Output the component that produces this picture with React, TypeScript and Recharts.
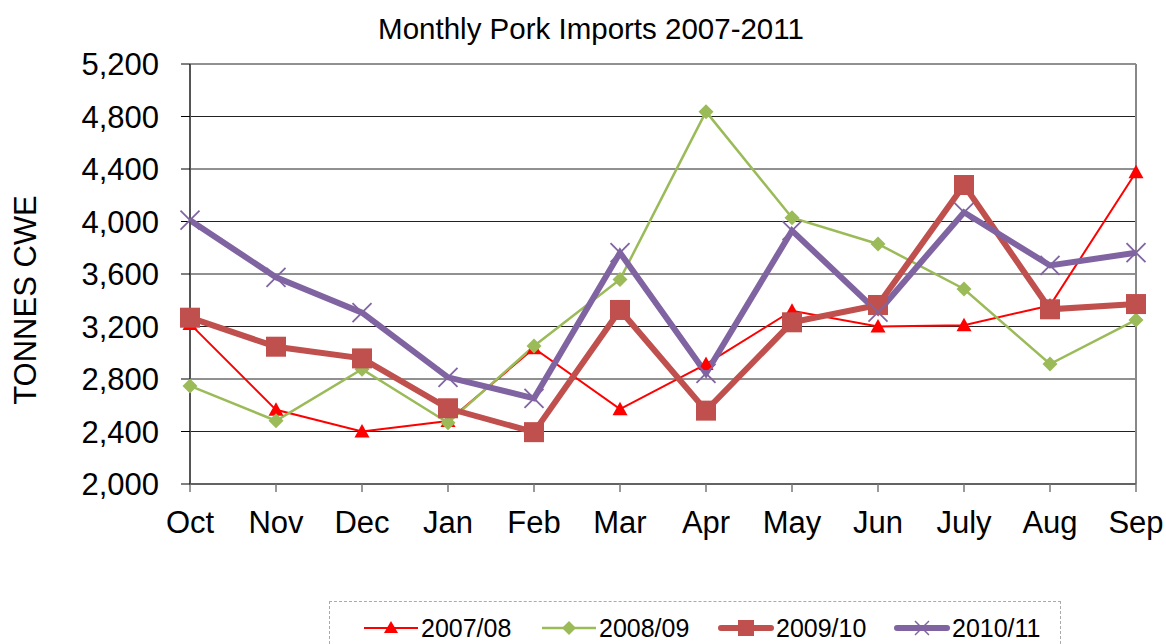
import React from 'react';
import { LineChart, Line, XAxis, YAxis, CartesianGrid, ReferenceLine } from 'recharts';

const months = ['Oct', 'Nov', 'Dec', 'Jan', 'Feb', 'Mar', 'Apr', 'May', 'Jun', 'July', 'Aug', 'Sep'];
const s0708 = [3220, 2565, 2400, 2480, 3034, 2570, 2914, 3320, 3200, 3210, 3360, 4375];
const s0809 = [2747, 2482, 2874, 2467, 3051, 3559, 4837, 4029, 3829, 3486, 2914, 3250];
const s0910 = [3267, 3046, 2957, 2577, 2395, 3326, 2559, 3232, 3364, 4278, 3331, 3371];
const s1011 = [4010, 3575, 3305, 2813, 2653, 3762, 2843, 3930, 3310, 4070, 3665, 3762];
const yTicks = [2000, 2400, 2800, 3200, 3600, 4000, 4400, 4800, 5200];
const seriesNames = ['2007/08', '2008/09', '2009/10', '2010/11'];

const data = months.map((m, i) => ({
  month: m,
  a: s0708[i],
  b: s0809[i],
  c: s0910[i],
  d: s1011[i],
}));

const FONT = '"Liberation Sans", Arial, sans-serif';
const RED = '#FF0000';
const GREEN = '#9BBB59';
const BRICK = '#C0504D';
const PURPLE = '#8064A2';

const TriangleDot = (p: any) => {
  const { cx, cy } = p;
  if (cx == null || cy == null) return null;
  const s = 7.5;
  return <polygon points={`${cx},${cy - s} ${cx + s},${cy + s * 0.8} ${cx - s},${cy + s * 0.8}`} fill={RED} stroke="none" />;
};
const DiamondDot = (p: any) => {
  const { cx, cy } = p;
  if (cx == null || cy == null) return null;
  const s = 7.5;
  return <polygon points={`${cx},${cy - s} ${cx + s},${cy} ${cx},${cy + s} ${cx - s},${cy}`} fill={GREEN} stroke="none" />;
};
const SquareDot = (p: any) => {
  const { cx, cy } = p;
  if (cx == null || cy == null) return null;
  const s = 10;
  return <rect x={cx - s} y={cy - s} width={2 * s} height={2 * s} fill={BRICK} stroke="none" />;
};
const XDot = (p: any) => {
  const { cx, cy } = p;
  if (cx == null || cy == null) return null;
  const s = 9.5;
  return (
    <g stroke={PURPLE} strokeWidth={1.8}>
      <line x1={cx - s} y1={cy - s} x2={cx + s} y2={cy + s} />
      <line x1={cx - s} y1={cy + s} x2={cx + s} y2={cy - s} />
    </g>
  );
};

const legendIcons = [
  (
    <svg width={56} height={22}>
      <line x1={1} y1={11} x2={55} y2={11} stroke={RED} strokeWidth={2} />
      <polygon points="28,4 35,16 21,16" fill={RED} />
    </svg>
  ),
  (
    <svg width={56} height={22}>
      <line x1={1} y1={11} x2={55} y2={11} stroke={GREEN} strokeWidth={2.5} />
      <polygon points="28,4 35,11 28,18 21,11" fill={GREEN} />
    </svg>
  ),
  (
    <svg width={56} height={22}>
      <line x1={3} y1={11} x2={53} y2={11} stroke={BRICK} strokeWidth={6} strokeLinecap="round" />
      <rect x={20} y={3} width={16} height={16} fill={BRICK} />
    </svg>
  ),
  (
    <svg width={56} height={22}>
      <line x1={3} y1={11} x2={53} y2={11} stroke={PURPLE} strokeWidth={6} strokeLinecap="round" />
      <line x1={21} y1={4} x2={35} y2={18} stroke={PURPLE} strokeWidth={1.5} />
      <line x1={21} y1={18} x2={35} y2={4} stroke={PURPLE} strokeWidth={1.5} />
    </svg>
  ),
];
const legendLefts = [33, 211, 388, 564];

const LegendBox = () => (
  <div
    style={{
      position: 'absolute',
      left: 329,
      top: 601,
      width: 732,
      height: 43,
      borderTop: '1px dashed #aaa',
      borderLeft: '1px dashed #aaa',
      borderRight: '1px dashed #aaa',
      boxSizing: 'border-box',
      fontFamily: FONT,
    }}
  >
    {seriesNames.map((n, i) => (
      <div
        key={n}
        style={{
          position: 'absolute',
          left: legendLefts[i],
          top: 14,
          display: 'flex',
          alignItems: 'center',
          height: 24,
        }}
      >
        {legendIcons[i]}
        <span style={{ fontSize: 25, color: '#000', marginLeft: 2, lineHeight: '24px' }}>{n}</span>
      </div>
    ))}
  </div>
);

const YLabel = () => (
  <text
    x={36}
    y={300}
    transform="rotate(-90 36 300)"
    textAnchor="middle"
    fontSize={31}
    fontFamily={FONT}
    fill="#000"
  >
    TONNES CWE
  </text>
);

export default function App() {
  return (
    <div style={{ position: 'absolute', left: 0, top: 0, width: 1166, height: 644, overflow: 'hidden', background: '#fff' }}>
      <div
        style={{
          position: 'absolute',
          left: 0,
          top: 14,
          width: 1182,
          textAlign: 'center',
          fontFamily: FONT,
          fontSize: 29.5,
          lineHeight: '30px',
          color: '#000',
          zIndex: 2,
        }}
      >
        Monthly Pork Imports 2007-2011
      </div>
      <LineChart
        width={1166}
        height={644}
        data={data}
        margin={{ top: 64, right: 30, bottom: 130, left: 0 }}
      >
        <CartesianGrid horizontal vertical={false} stroke="#222" strokeWidth={1} />
        <XAxis
          dataKey="month"
          height={30}
          tickLine={{ stroke: '#777', strokeWidth: 1.5 }}
          axisLine={{ stroke: '#555', strokeWidth: 1.5 }}
          tickSize={8}
          tickMargin={19}
          tick={{ fontSize: 31, fill: '#000', fontFamily: FONT }}
          interval={0}
        />
        <YAxis
          width={190}
          domain={[2000, 5200]}
          ticks={yTicks}
          interval={0}
          tickFormatter={(v: number) => v.toLocaleString('en-US')}
          tickLine={{ stroke: '#000', strokeWidth: 1 }}
          axisLine={{ stroke: '#555', strokeWidth: 2 }}
          tickSize={9}
          tickMargin={22}
          tick={{ fontSize: 31, fill: '#000', fontFamily: FONT }}
          label={{ content: () => <YLabel /> }}
        />
        <ReferenceLine x="Sep" stroke="#888" strokeWidth={2} />
        <Line
          dataKey="a"
          name={seriesNames[0]}
          stroke={RED}
          strokeWidth={2}
          dot={TriangleDot}
          activeDot={false}
          isAnimationActive={false}
        />
        <Line
          dataKey="b"
          name={seriesNames[1]}
          stroke={GREEN}
          strokeWidth={2.5}
          dot={DiamondDot}
          activeDot={false}
          isAnimationActive={false}
        />
        <Line
          dataKey="c"
          name={seriesNames[2]}
          stroke={BRICK}
          strokeWidth={6}
          dot={SquareDot}
          activeDot={false}
          isAnimationActive={false}
        />
        <Line
          dataKey="d"
          name={seriesNames[3]}
          stroke={PURPLE}
          strokeWidth={6}
          dot={XDot}
          activeDot={false}
          isAnimationActive={false}
        />
      </LineChart>
      <LegendBox />
    </div>
  );
}
